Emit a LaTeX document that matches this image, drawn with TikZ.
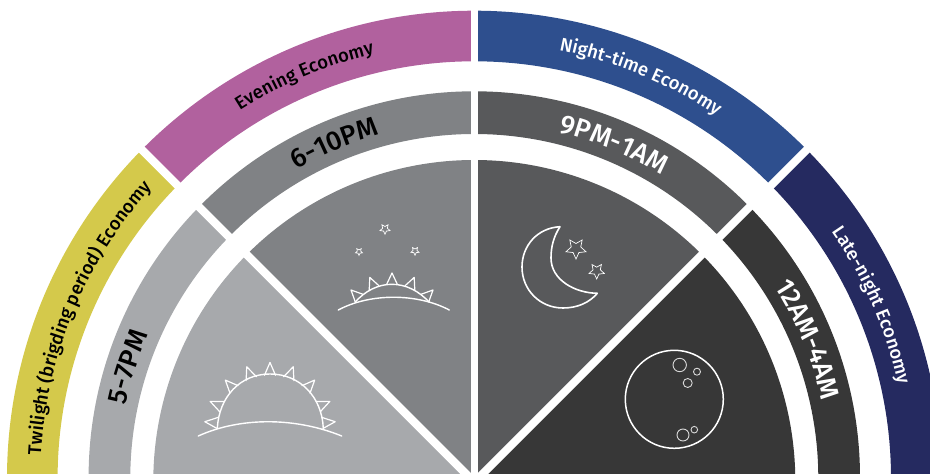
\documentclass[tikz,border=0pt]{standalone}
\usepackage{fontspec}
\setmainfont{Fira Sans Medium}
\usetikzlibrary{decorations.text,shapes.geometric}
\definecolor{cyellow}{HTML}{D4C94B}
\definecolor{cpink}{HTML}{B1619E}
\definecolor{cblue}{HTML}{2E4F8E}
\definecolor{cnavy}{HTML}{252A60}
\definecolor{gone}{HTML}{A7A9AC}
\definecolor{gtwo}{HTML}{808285}
\definecolor{gthree}{HTML}{58595B}
\definecolor{gfour}{HTML}{373737}
\tikzset{
  icon/.style={draw=white,line width=1.4pt,line join=round,line cap=round},
  thinicon/.style={draw=white!85!black,line width=0.9pt},
  starico/.style={star,star points=5,star point ratio=2.1,draw=white,line width=0.7pt,inner sep=0pt,shape border rotate=#1},
  starico/.default=180,
  gapline/.style={draw=white,line width=8pt}
}
% colour, centre y of outer arc, outer R, centre y of inner arc, inner R, start, end
\newcommand\sect[7]{\fill[#1] ([shift={(#6:#3pt)}]474.3pt,#2pt) arc[start angle=#6,end angle=#7,radius=#3pt]
  -- ([shift={(#7:#5pt)}]474.3pt,#4pt) arc[start angle=#7,end angle=#6,radius=#5pt] -- cycle;}
% radius, centre angle, half span, size, colour, text
\newcommand\arctext[6]{\path[decorate,decoration={text along path,text align=center,
  text={|\fontsize{#4}{#4}\selectfont\color{#5}|#6}}]
  ([shift={({#2+#3}:#1pt)}]474.3pt,-4pt) arc[start angle={#2+#3},end angle={#2-#3},radius=#1pt];}
\begin{document}
\begin{tikzpicture}[x=1pt,y=1pt]
\useasboundingbox (0,0) rectangle (930,474);
\clip (0,0) rectangle (930,474);
% outer ring
\sect{cyellow}{-4}{467.3}{-4}{416.7}{135.4}{185}
\sect{cpink}{-4}{467.3}{-4}{416.7}{90}{135.4}
\sect{cblue}{-4}{467.3}{-4}{416.7}{44.6}{90}
\sect{cnavy}{-4}{467.3}{-4}{416.7}{-5}{44.6}
% middle ring
\sect{gone}{-3}{385.7}{-4}{344}{135.5}{185}
\sect{gtwo}{-3}{385.7}{-4}{344}{90}{135.5}
\sect{gthree}{-3}{385.7}{-4}{344}{44.5}{90}
\sect{gfour}{-3}{385.7}{-4}{344}{-5}{44.5}
% inner wedges
\fill[gone] (474.3,-7) -- ++(135:321) arc[start angle=135,end angle=185,radius=321pt] -- cycle;
\fill[gtwo] (474.3,-7) -- ++(90:321) arc[start angle=90,end angle=135,radius=321pt] -- cycle;
\fill[gthree] (474.3,-7) -- ++(45:321) arc[start angle=45,end angle=90,radius=321pt] -- cycle;
\fill[gfour] (474.3,-7) -- ++(-5:321) arc[start angle=-5,end angle=45,radius=321pt] -- cycle;
% gaps
\coordinate (hub) at (474.3,-8.2);
\coordinate (topgap) at (474.3,480);
\coordinate (leftgap) at ([shift={(135:520pt)}]hub);
\coordinate (rightgap) at ([shift={(45:520pt)}]hub);
\draw[white,line width=7.4pt] (hub) -- (topgap);
\draw[gapline] (hub) -- (leftgap);
\draw[gapline] (hub) -- (rightgap);
% outer labels
\arctext{434}{157.5}{22}{18.5}{black}{Twilight (brigding period) Economy}
\arctext{436}{112.9}{22}{18.5}{black}{Evening Economy}
\arctext{436}{67.5}{22}{18.5}{white}{Night-time Economy}
\arctext{434}{23.5}{22}{18.5}{white}{Late-night Economy}
% middle labels
\arctext{356}{162.2}{22}{27}{black}{5-7PM}
\arctext{356}{112.7}{22}{27}{black}{6-10PM}
\arctext{356}{67.3}{22}{27}{white}{9PM-1AM}
\arctext{356}{22.5}{22}{27}{white}{12AM-4AM}
\begin{scope}[x=1pt,y=-1pt,yshift=474pt]
% sun
\draw[icon] (198.3,436) .. controls (240,417) and (295,417) .. (341.7,436);
\draw[icon] (217.3,428.3) .. controls (219,397) and (240,374) .. (270,374) .. controls (300,374) and (322,397) .. (323.3,428.3);
\foreach \a in {5.5,24,47,69.2,90,110.8,133,156,174.5}{
  \draw[icon,line width=1.2pt] ({270+53*cos(\a-6)},{428-53*sin(\a-6)}) -- ({270+65.5*cos(\a)},{428-65.5*sin(\a)}) -- ({270+53*cos(\a+6)},{428-53*sin(\a+6)});
}
% evening
\draw[icon] (338.3,310) .. controls (370,293) and (417,293) .. (449.3,310);
\draw[icon] (355,302.3) .. controls (365,291) and (378,284.3) .. (391.7,284.3) .. controls (406,284.3) and (419,291) .. (429.3,302.3);
\foreach \a in {45,67.5,90,112.5,135}{
  \draw[icon,line width=1.2pt] ({392+47*cos(\a-6.5)},{331-47*sin(\a-6.5)}) -- ({392+58*cos(\a)},{331-58*sin(\a)}) -- ({392+47*cos(\a+6.5)},{331-47*sin(\a+6.5)});
}
\node[starico,minimum size=10.5pt] (staron) at (385,229) {};
\node[starico,minimum size=7.5pt] (startwo) at (359,251.7) {};
\node[starico,minimum size=8.5pt] (starthree) at (415,251) {};
% crescent
\draw[icon,line width=1.6pt] (560,226.7) .. controls (537,228) and (522,246) .. (522,267)
  .. controls (522,290) and (540,308) .. (563,308) .. controls (577,308) and (589,303) .. (597.3,293.3)
  .. controls (575,293) and (551,280) .. (551,258) .. controls (551,246) and (554,236) .. (560,226.7) -- cycle;
\node[starico,minimum size=21pt] (starfour) at (576,248.5) {};
\node[starico,minimum size=16pt] (starfive) at (596.7,271) {};
% full moon
\node[circle,icon,line width=1.5pt,minimum size=98pt,inner sep=0pt] (moon) at (674.3,399.3) {};
\node[circle,thinicon,minimum size=13.4pt,inner sep=0pt] (craterone) at (679.7,365) {};
\node[circle,thinicon,minimum size=7pt,inner sep=0pt] (cratertwo) at (697,371.7) {};
\node[circle,thinicon,minimum size=9pt,inner sep=0pt] (craterthree) at (687.7,383) {};
\node[circle,thinicon,minimum size=12pt,inner sep=0pt] (craterfour) at (683,435) {};
\node[circle,thinicon,minimum size=6.6pt,inner sep=0pt] (craterfive) at (694.3,429.7) {};
\end{scope}
\end{tikzpicture}
\end{document}
